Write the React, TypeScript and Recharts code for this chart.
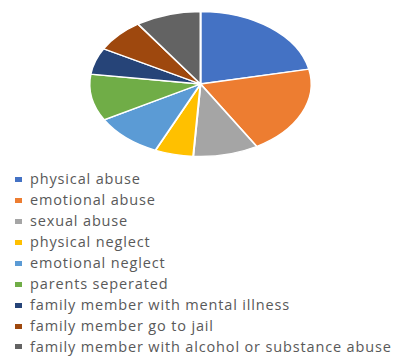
import { Cell, Legend, Pie, PieChart } from 'recharts';

const categories = [
  'physical abuse',
  'emotional abuse',
  'sexual abuse',
  'physical neglect',
  'emotional neglect',
  'parents seperated',
  'family member with mental illness',
  'family member go to jail',
  'family member with alcohol or substance abuse',
];

// share of respondents per category
const shares = [21.7, 19.8, 9.5, 5.6, 10.1, 10.4, 5.9, 7.4, 9.5];

const colors = [
  '#4472C4',
  '#ED7D31',
  '#A5A5A5',
  '#FFC000',
  '#5B9BD5',
  '#70AD47',
  '#264478',
  '#9E480E',
  '#636363',
];

const data = categories.map((name, i) => ({ name, value: shares[i] }));

// the source picture is stretched sideways, so the pie is drawn as an ellipse
const STRETCH = 1.53;
const CX = 200.5;
const CY = 84;

const LegendList = ({ payload }: any) => {
  // keep the legend in data order, not alphabetical
  const items = [...(payload || [])].sort(
    (a: any, b: any) => categories.indexOf(a.value) - categories.indexOf(b.value)
  );
  return (
    <ul style={{ listStyle: 'none', margin: 0, padding: 0 }}>
      {items.map((entry: any) => (
        <li
          key={entry.value}
          style={{
            height: 20.95,
            lineHeight: '20.95px',
            display: 'flex',
            alignItems: 'center',
            whiteSpace: 'nowrap',
          }}
        >
          <span
            style={{
              display: 'inline-block',
              width: 7,
              height: 5,
              marginLeft: 15,
              marginRight: 8,
              background: entry.color,
            }}
          />
          <span>{entry.value}</span>
        </li>
      ))}
    </ul>
  );
};

const App = () => {
  return (
    <div
      className='acePie'
      style={{
        position: 'absolute',
        left: 0,
        top: 0,
        width: 397,
        height: 356,
        background: '#fff',
        fontFamily: '"Open Sans", sans-serif',
        fontSize: 14.5,
        letterSpacing: 0.85,
        color: '#595959',
      }}
    >
      <style>{`
        .acePie svg.recharts-surface {
          transform: scaleX(${STRETCH});
          transform-origin: ${CX}px ${CY}px;
        }
      `}</style>
      <PieChart
        width={397}
        height={356}
        margin={{ top: 0, right: 0, bottom: 0, left: 0 }}
      >
        <Pie
          data={data}
          dataKey='value'
          nameKey='name'
          cx={CX}
          cy={CY}
          outerRadius={72.5}
          startAngle={90}
          endAngle={-270}
          stroke='#fff'
          strokeWidth={1.3}
          isAnimationActive={false}
        >
          {data.map((d, i) => (
            <Cell key={d.name} fill={colors[i]} />
          ))}
        </Pie>
        <Legend
          layout='horizontal'
          align='center'
          verticalAlign='middle'
          content={<LegendList />}
          wrapperStyle={{ top: 169, left: 0, width: 397 }}
        />
      </PieChart>
    </div>
  );
};

export default App;
